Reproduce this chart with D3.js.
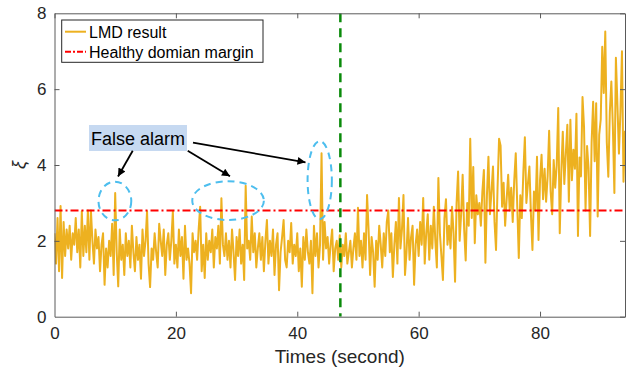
<!DOCTYPE html>
<html><head><meta charset="utf-8">
<script src="https://cdn.jsdelivr.net/npm/d3@7"></script>
<style>
html,body{margin:0;padding:0;background:#fff;}
svg{display:block;font-family:"Liberation Sans",Arial,Helvetica,sans-serif;}
</style></head>
<body><svg id="chart" width="633" height="372"></svg>
<script>
// ---- data ----
const sampleStart = 0, sampleStep = 0.25;   // seconds
const lmdValues = [
 2.2,1.4,2.6,1.2,2.92,1.02,2.5,1.6,2.3,1.8,2.4,1.5,2.2,1.9,2.6,1.7,2.3,1.3,2.78,1.6,
 2.4,1.7,2.8,1.5,2.8,2.0,1.4,2.3,1.8,2.1,1.2,1.9,2.2,0.84,1.8,1.3,2.0,1.6,2.45,1.1,
 3.26,1.7,0.8,2.3,1.5,1.9,1.1,2.2,1.6,2.0,1.3,2.4,1.7,1.2,2.1,1.5,1.9,1.0,2.3,1.6,
 2.0,2.78,1.4,0.78,1.8,1.5,2.2,1.7,1.3,2.45,2.0,1.6,2.3,1.1,1.9,2.2,1.5,2.0,2.78,1.4,
 1.9,1.3,2.3,1.6,2.1,1.0,2.4,1.5,1.8,1.4,0.62,2.2,1.7,2.0,1.5,2.3,2.9,1.2,1.9,1.02,
 2.2,1.5,2.0,1.7,2.3,1.3,2.1,1.8,2.4,1.4,3.12,1.9,1.6,2.2,1.5,2.0,1.3,2.3,1.7,0.97,
 2.1,1.6,2.3,1.4,1.9,0.97,3.45,1.8,2.0,1.5,2.64,1.7,2.2,1.3,1.8,2.2,1.5,2.1,1.2,2.0,
 2.55,1.4,2.0,1.6,2.3,1.1,1.9,2.2,0.7,1.7,2.1,2.55,1.5,1.3,2.0,1.7,2.47,1.4,1.9,1.6,
 2.2,1.2,1.8,0.79,2.1,1.5,2.3,1.7,1.4,2.0,0.62,2.4,1.6,2.2,1.3,1.9,4.31,1.5,2.5,1.8,
 2.1,1.4,1.9,2.3,1.2,1.8,2.0,1.5,2.15,1.3,1.9,1.6,2.2,1.4,1.7,2.0,1.3,1.8,2.2,1.5,
 2.87,1.6,2.0,1.3,2.2,1.5,3.21,2.3,1.1,2.1,1.7,0.79,2.0,1.5,2.4,1.9,1.3,2.2,1.6,2.5,
 2.8,1.7,2.2,1.05,1.9,2.5,1.4,3.13,1.8,2.3,3.21,1.1,1.7,2.6,1.5,2.1,2.4,0.84,1.9,2.3,
 1.6,2.5,1.9,3.13,1.4,2.2,2.7,1.5,2.4,1.8,2.9,2.0,1.3,3.66,2.2,1.6,0.97,2.6,3.1,1.9,
 2.4,1.8,2.9,2.2,0.92,3.0,3.83,2.0,2.7,3.74,2.3,1.48,3.0,2.4,4.69,2.6,3.95,1.94,3.2,2.7,
 3.0,2.4,3.3,3.87,1.42,3.2,4.22,2.7,3.3,3.96,2.5,1.76,3.4,4.69,4.51,2.9,3.53,2.4,3.1,3.74,
 2.8,3.4,2.5,3.6,4.31,2.9,1.55,3.2,2.6,3.8,4.73,3.0,3.5,3.96,2.7,1.76,3.3,2.8,4.22,2.02,
 3.6,4.27,3.1,3.9,3.03,3.7,4.9,3.3,2.7,4.13,3.4,4.0,5.5,2.2,3.8,4.88,3.5,4.3,5.06,3.03,
 5.19,3.6,4.4,3.9,5.35,2.13,4.2,3.7,5.79,5.0,2.8,4.5,3.9,2.13,4.6,5.67,4.1,5.63,2.64,4.8,
 5.2,7.12,5.9,7.52,4.6,3.69,5.4,6.2,5.0,3.26,6.83,5.6,4.3,5.41,7.0,3.56,4.9
];
const marginValue = 2.8;        // healthy domain margin
const faultTime = 47.1;         // vertical dashed line
const xTicks = [0,20,40,60,80];
const yTicks = [0,2,4,6,8];
const xDomain = [0,94], yDomain = [0,8];
const legendLabels = ["LMD result","Healthy domian margin"];
const annotationText = "False alarm";
// false-alarm ellipses: centre (time, value) and radii (seconds, value units)
const alarmTimes = [9.95, 28.6, 43.7];
const alarmValues = [3.05, 3.06, 3.6];
const alarmRx = [2.7, 5.9, 2.0];
const alarmRy = [0.51, 0.51, 1.03];

// ---- layout ----
const svg = d3.select("#chart");
const L = 54.5, R = 625, T = 13.3, B = 316.7;
const x = d3.scaleLinear().domain(xDomain).range([L,R]);
const y = d3.scaleLinear().domain(yDomain).range([B,T]);
const axisCol = "#262626";

const series = lmdValues.map((v,i)=>({t: sampleStart + i*sampleStep, v}));

svg.append("defs").append("clipPath").attr("id","clip")
  .append("rect").attr("x",L).attr("y",T).attr("width",R-L).attr("height",B-T);
const marker = svg.select("defs").append("marker").attr("id","arr")
  .attr("viewBox","0 0 10 10").attr("refX",10).attr("refY",5)
  .attr("markerWidth",10).attr("markerHeight",8).attr("markerUnits","userSpaceOnUse")
  .attr("orient","auto");
marker.append("path").attr("d","M0,0 L10,5 L0,10 z").attr("fill","#000");

const plot = svg.append("g").attr("clip-path","url(#clip)");

// LMD line
plot.append("path").datum(series)
  .attr("d", d3.line().x(d=>x(d.t)).y(d=>y(d.v)))
  .attr("fill","none").attr("stroke","#EDB120").attr("stroke-width",2)
  .attr("stroke-linejoin","round");

// margin line
plot.append("line").attr("x1",x(xDomain[0])).attr("x2",x(xDomain[1]))
  .attr("y1",y(marginValue)).attr("y2",y(marginValue))
  .attr("stroke","#FF0000").attr("stroke-width",2).attr("stroke-dasharray","8,3,2,3");

// fault line
plot.append("line").attr("x1",x(faultTime)).attr("x2",x(faultTime))
  .attr("y1",y(yDomain[1])).attr("y2",y(yDomain[0]))
  .attr("stroke","#0A8A0A").attr("stroke-width",2.5).attr("stroke-dasharray","9,6");

// ellipses
alarmTimes.forEach((t,i)=>{
  svg.append("ellipse").attr("cx",x(t)).attr("cy",y(alarmValues[i]))
    .attr("rx",x(alarmRx[i])-x(0)).attr("ry",y(0)-y(alarmRy[i]))
    .attr("fill","none").attr("stroke","#4DBEEE").attr("stroke-width",2)
    .attr("stroke-dasharray","7,5");
});

// axes
const ax = svg.append("g").attr("color",axisCol);
const xb = ax.append("g").attr("transform",`translate(0,${B})`)
  .call(d3.axisBottom(x).tickValues(xTicks).tickSizeInner(-5).tickSizeOuter(0).tickPadding(10));
const xt = ax.append("g").attr("transform",`translate(0,${T})`)
  .call(d3.axisTop(x).tickValues(xTicks).tickSizeInner(-5).tickSizeOuter(0).tickFormat(""));
const yl = ax.append("g").attr("transform",`translate(${L},0)`)
  .call(d3.axisLeft(y).tickValues(yTicks).tickSizeInner(-5).tickSizeOuter(0).tickPadding(8));
const yr = ax.append("g").attr("transform",`translate(${R},0)`)
  .call(d3.axisRight(y).tickValues(yTicks).tickSizeInner(-5).tickSizeOuter(0).tickFormat(""));
ax.selectAll(".domain").attr("stroke","#5a5a5a").attr("stroke-width",1);
ax.selectAll(".tick line").attr("stroke","#5a5a5a");
ax.selectAll("g").attr("font-size",null).attr("font-family",null);
ax.selectAll(".tick text").attr("font-family","Liberation Sans, Arial, sans-serif")
  .attr("font-size",17).attr("fill",axisCol);
yl.selectAll(".tick").filter(d=>d===0 || d===8).select("line").remove();
xb.selectAll(".tick").filter(d=>d===0).select("line").remove();

// axis labels
svg.append("text").attr("x",(L+R)/2).attr("y",363).attr("text-anchor","middle")
  .attr("font-size",19).attr("fill",axisCol).text("Times (second)");
svg.append("text").attr("transform",`translate(25,${(T+B)/2}) rotate(-90)`)
  .attr("text-anchor","middle").attr("font-size",18).attr("font-style","italic")
  .attr("fill",axisCol).text("ξ");

// legend
const lg = svg.append("g");
lg.append("rect").attr("x",61.7).attr("y",20).attr("width",201.3).attr("height",42.3)
  .attr("fill","#fff").attr("stroke","#262626").attr("stroke-width",1);
lg.append("line").attr("x1",65).attr("x2",86).attr("y1",31.7).attr("y2",31.7)
  .attr("stroke","#EDB120").attr("stroke-width",2);
lg.append("line").attr("x1",65).attr("x2",86).attr("y1",51.7).attr("y2",51.7)
  .attr("stroke","#FF0000").attr("stroke-width",2).attr("stroke-dasharray","6,2,2,2");
lg.selectAll("text.lg").data(legendLabels).join("text").attr("class","lg")
  .attr("x",89).attr("y",(d,i)=>37.5+i*20).attr("font-size",16).attr("fill","#000").text(d=>d);

// annotation
svg.append("rect").attr("x",89).attr("y",125).attr("width",98).attr("height",26).attr("fill","#C6D9F1");
svg.append("text").attr("x",91).attr("y",144.5).attr("font-size",18).attr("fill","#000").text(annotationText);
const arrows = [[132.7,150.7,118,176.5],[187.7,150.7,230,176.3],[193,142.7,305.5,162.3]];
arrows.forEach(a=>{
  svg.append("line").attr("x1",a[0]).attr("y1",a[1]).attr("x2",a[2]).attr("y2",a[3])
    .attr("stroke","#000").attr("stroke-width",1.8).attr("marker-end","url(#arr)");
});
</script></body></html>
